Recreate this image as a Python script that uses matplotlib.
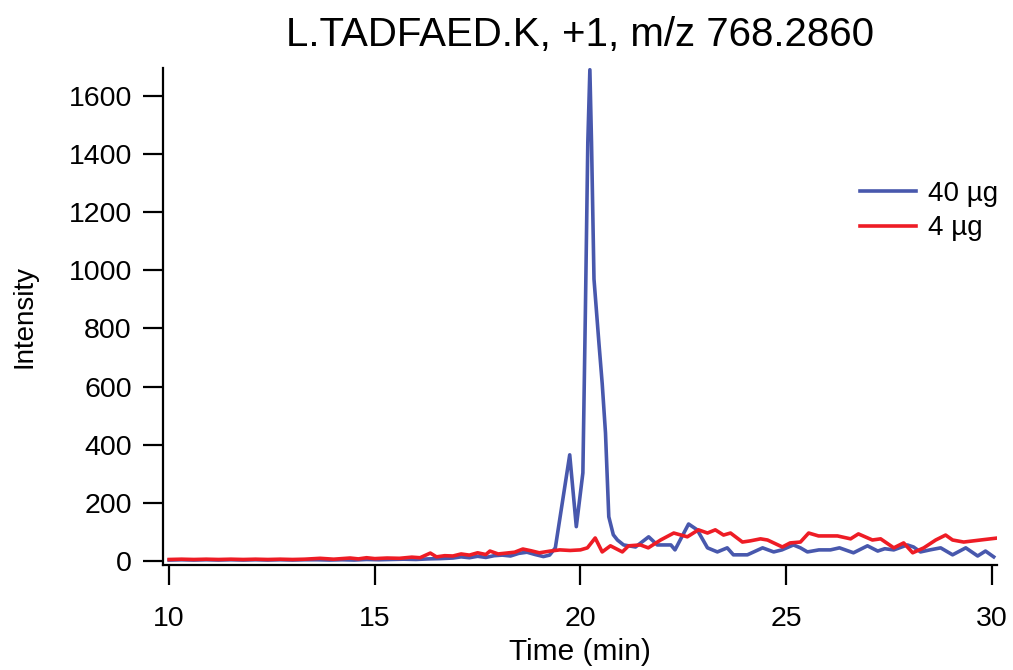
import matplotlib
matplotlib.use("Agg")
import matplotlib.pyplot as plt

plt.rcParams['font.family'] = ['Liberation Sans', 'DejaVu Sans']

title = "L.TADFAED.K, +1, m/z 768.2860"
series_labels = ["40 µg", "4 µg"]

# 40 ug trace (time in min, intensity)
t_40 = [10.0, 10.3, 10.6, 10.9, 11.2, 11.5, 11.8, 12.1, 12.4, 12.7, 13.0, 13.3,
        13.6, 13.9, 14.2, 14.5, 14.8, 15.1, 15.4, 15.7, 16.0, 16.3, 16.6, 16.9,
        17.1, 17.3, 17.5, 17.7, 17.9, 18.1, 18.3, 18.5, 18.7, 18.9, 19.1, 19.25,
        19.39, 19.74, 19.9, 20.06, 20.12, 20.18, 20.23, 20.27, 20.33, 20.45, 20.53,
        20.61, 20.69, 20.8, 20.9, 21.05, 21.34, 21.66, 21.87, 22.2, 22.3, 22.63,
        22.84, 23.09, 23.33, 23.57, 23.72, 24.06, 24.43, 24.7, 24.9, 25.18, 25.35,
        25.52, 25.8, 26.08, 26.3, 26.64, 26.98, 27.23, 27.4, 27.62, 27.95, 28.1,
        28.27, 28.5, 28.76, 29.05, 29.37, 29.66, 29.85, 30.05]
i_40 = [3, 4, 3, 4, 3, 4, 3, 4, 3, 4, 3, 4,
        4, 3, 4, 3, 5, 4, 5, 6, 5, 7, 8, 10,
        14, 11, 16, 12, 18, 20, 17, 26, 30, 22, 15, 20,
        45, 365, 118, 303, 850, 1440, 1690, 1440, 970, 750, 610,
        440, 152, 90, 72, 55, 48, 83, 55, 55, 38, 127,
        107, 45, 31, 45, 21, 21, 45, 31, 38, 55, 45,
        31, 38, 38, 45, 28, 52, 34, 42, 38, 55, 48,
        31, 38, 45, 21, 45, 17, 34, 14]

# 4 ug trace
t_4 = [10.0, 10.3, 10.6, 10.9, 11.2, 11.5, 11.8, 12.1, 12.4, 12.7, 13.0, 13.3,
       13.67, 14.0, 14.4, 14.6, 14.8, 15.0, 15.3, 15.6, 15.9, 16.1, 16.35, 16.5,
       16.7, 16.9, 17.1, 17.3, 17.5, 17.7, 17.8, 18.0, 18.2, 18.4, 18.6, 18.8,
       19.0, 19.27, 19.5, 19.75, 20.0, 20.17, 20.36, 20.53, 20.73, 21.02, 21.17,
       21.46, 21.65, 21.95, 22.27, 22.6, 22.87, 23.09, 23.28, 23.48, 23.65, 23.94,
       24.13, 24.38, 24.55, 24.91, 25.1, 25.35, 25.55, 25.79, 26.25, 26.57, 26.76,
       27.1, 27.3, 27.62, 27.86, 28.08, 28.35, 28.64, 28.88, 29.05, 29.32, 29.73,
       30.15]
i_4 = [5, 6, 5, 6, 5, 6, 5, 6, 5, 6, 5, 6,
       9, 6, 10, 7, 11, 8, 10, 9, 13, 11, 27, 14,
       18, 17, 24, 20, 28, 22, 34, 24, 27, 30, 41, 35,
       28, 34, 38, 36, 38, 45, 79, 31, 52, 31, 52,
       55, 45, 72, 96, 83, 107, 96, 107, 89, 96, 65,
       69, 76, 72, 48, 62, 65, 96, 86, 86, 76, 93,
       72, 76, 45, 62, 28, 45, 72, 89, 72, 65, 72,
       79]

x_ticks = [10, 15, 20, 25, 30]
y_ticks = [0, 200, 400, 600, 800, 1000, 1200, 1400, 1600]

fig = plt.figure(figsize=(10.13, 6.70), dpi=100)
ax = fig.add_axes([163 / 1013, 1 - 565 / 670, (997 - 163) / 1013, (565 - 68) / 670])

ax.plot(t_40, i_40, color='#4858ad', lw=2.6, label=series_labels[0])
ax.plot(t_4, i_4, color='#ee1c25', lw=2.6, label=series_labels[1])

ax.set_xlim(9.85, 30.13)
ax.set_ylim(-14, 1696)
ax.set_xticks(x_ticks)
ax.set_yticks(y_ticks)
ax.spines['top'].set_visible(False)
ax.spines['right'].set_visible(False)
for s in ['left', 'bottom']:
    ax.spines[s].set_linewidth(1.6)
ax.tick_params(axis='both', direction='out', length=14.5, width=1.6, labelsize=20.5)
ax.tick_params(axis='x', pad=15)
ax.tick_params(axis='y', pad=8)

ax.set_xlabel("Time (min)", fontsize=21.5, labelpad=4)
ax.set_ylabel("Intensity", fontsize=20, labelpad=22)
ax.set_title(title, fontsize=29, pad=16)

ax.legend(loc='upper left', bbox_to_anchor=(860 / 1013, 1 - 181 / 670),
          bbox_transform=fig.transFigure, frameon=False, fontsize=20,
          handlelength=2.0, handletextpad=0.45, borderpad=0, borderaxespad=0,
          labelspacing=0.3)

fig.savefig("out.png", dpi=100)
